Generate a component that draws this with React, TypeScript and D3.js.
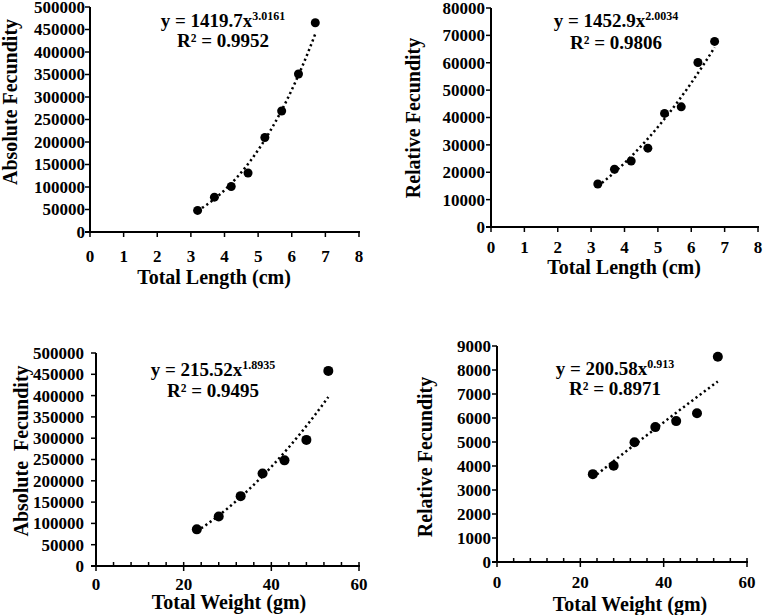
import * as d3 from "d3";
import {useEffect, useRef} from "react";

// data
const lengthCm = [3.2, 3.7, 4.2, 4.7, 5.2, 5.7, 6.2, 6.7];
const absFecByLength = [48000, 77500, 101000, 131000, 210000, 269000, 351000, 465000];
const relFecByLength = [15700, 21100, 24100, 28800, 41500, 43900, 60100, 67800];
const weightGm = [23, 28, 33, 38, 43, 48, 53];
const absFecByWeight = [86000, 116000, 164000, 217000, 248000, 296000, 458000];
const relFecByWeight = [3660, 4010, 4990, 5620, 5870, 6200, 8550];

// power trendlines y = a x^b as printed on each panel
const fitA = [1419.7, 1452.9, 215.52, 200.58];
const fitB = [3.0161, 2.0034, 1.8935, 0.913];
const fitALabel = ["1419.7", "1452.9", "215.52", "200.58"];
const fitBLabel = ["3.0161", "2.0034", "1.8935", "0.913"];
const fitR2 = ["0.9952", "0.9806", "0.9495", "0.8971"];

const lengthTicks = [0, 1, 2, 3, 4, 5, 6, 7, 8];
const weightTicks = [0, 20, 40, 60];
const weightMinorTicks = d3.range(0, 61, 4);
const absTicks = d3.range(0, 500001, 50000);
const relLenTicks = d3.range(0, 80001, 10000);
const relWtTicks = d3.range(0, 9001, 1000);

const xTitles = ["Total Length (cm)", "Total Length (cm)", "Total Weight (gm)", "Total Weight (gm)"];
const yTitles = ["Absolute Fecundity", "Relative Fecundity", "Absolute  Fecundity", "Relative Fecundity"];

const FONT = "'Liberation Serif', 'Times New Roman', serif";

export default function App() {
    const svgRef = useRef(null);

    useEffect(() => {
        if (!svgRef.current) return;
        const svg = d3.select(svgRef.current);
        svg.selectAll("*").remove();

        const panels = [
            {xs: lengthCm, ys: absFecByLength, xDom: [0, 8], yDom: [0, 500000], xTicks: lengthTicks, minor: null, yTicks: absTicks,
                x0: 90, x1: 359, y0: 232, y1: 7, r: 4.5, lblEnd: 85, xLblY: 262,
                eqX: 223, eqY: 27, r2Y: 47, xtX: 214, xtY: 284, ytX: 17, ytY: 102},
            {xs: lengthCm, ys: relFecByLength, xDom: [0, 8], yDom: [0, 80000], xTicks: lengthTicks, minor: null, yTicks: relLenTicks,
                x0: 491, x1: 758, y0: 227, y1: 8, r: 4.5, lblEnd: 485, xLblY: 253,
                eqX: 616, eqY: 27, r2Y: 49, xtX: 624, xtY: 274, ytX: 420, ytY: 118},
            {xs: weightGm, ys: absFecByWeight, xDom: [0, 60], yDom: [0, 500000], xTicks: weightTicks, minor: weightMinorTicks, yTicks: absTicks,
                x0: 96, x1: 359, y0: 566, y1: 353, r: 5, lblEnd: 84, xLblY: 590,
                eqX: 213, eqY: 376, r2Y: 397, xtX: 229, xtY: 609, ytX: 28, ytY: 451},
            {xs: weightGm, ys: relFecByWeight, xDom: [0, 60], yDom: [0, 9000], xTicks: weightTicks, minor: weightMinorTicks, yTicks: relWtTicks,
                x0: 497, x1: 747, y0: 562, y1: 346, r: 5, lblEnd: 491, xLblY: 588,
                eqX: 615, eqY: 375, r2Y: 395, xtX: 630, xtY: 611, ytX: 432, ytY: 457},
        ];

        panels.forEach((p, i) => {
            const x = d3.scaleLinear().domain(p.xDom).range([p.x0, p.x1]);
            const y = d3.scaleLinear().domain(p.yDom).range([p.y0, p.y1]);
            const g = svg.append("g");

            // axes lines
            g.append("line").attr("x1", p.x0).attr("x2", p.x0).attr("y1", p.y1).attr("y2", p.y0)
                .attr("stroke", "#000").attr("stroke-width", 2);
            g.append("line").attr("x1", p.x0 - 5).attr("x2", p.x1 + 1).attr("y1", p.y0).attr("y2", p.y0)
                .attr("stroke", "#000").attr("stroke-width", 2);

            // y ticks
            g.selectAll(".yt").data(p.yTicks).join("line")
                .attr("x1", p.x0 - 5).attr("x2", p.x0)
                .attr("y1", d => y(d)).attr("y2", d => y(d))
                .attr("stroke", "#000").attr("stroke-width", 1.5);
            g.selectAll(".yl").data(p.yTicks).join("text")
                .attr("x", p.lblEnd).attr("y", d => y(d)).attr("dy", "0.35em")
                .attr("text-anchor", "end")
                .style("font", `bold 17px ${FONT}`)
                .text(d => String(d));

            // x ticks
            if (p.minor) {
                g.selectAll(".xm").data(p.minor).join("line")
                    .attr("x1", d => x(d)).attr("x2", d => x(d))
                    .attr("y1", p.y0 - 4).attr("y2", p.y0)
                    .attr("stroke", "#000").attr("stroke-width", 1.5);
            }
            g.selectAll(".xt").data(p.xTicks).join("line")
                .attr("x1", d => x(d)).attr("x2", d => x(d))
                .attr("y1", p.y0).attr("y2", p.y0 + 5)
                .attr("stroke", "#000").attr("stroke-width", 1.5);
            g.selectAll(".xl").data(p.xTicks).join("text")
                .attr("x", d => x(d)).attr("y", p.xLblY)
                .attr("text-anchor", "middle")
                .style("font", `bold 17px ${FONT}`)
                .text(d => String(d));

            // trendline from the printed equation
            const xMin = d3.min(p.xs) as number;
            const xMax = d3.max(p.xs) as number;
            const xsFit = d3.range(0, 41).map(k => xMin + (xMax - xMin) * k / 40);
            const line = d3.line<number>().x(d => x(d)).y(d => y(fitA[i] * Math.pow(d, fitB[i])));
            g.append("path").attr("d", line(xsFit))
                .attr("fill", "none").attr("stroke", "#000")
                .attr("stroke-width", 2.5).attr("stroke-dasharray", "2.2 3");

            // points
            g.selectAll(".pt").data(p.xs).join("circle")
                .attr("cx", d => x(d)).attr("cy", (_, j) => y(p.ys[j]))
                .attr("r", p.r).attr("fill", "#000");

            // equation + R2
            const eq = g.append("text").attr("x", p.eqX).attr("y", p.eqY)
                .attr("text-anchor", "middle").style("font", `bold 19px ${FONT}`);
            eq.append("tspan").text(`y = ${fitALabel[i]}x`);
            eq.append("tspan").attr("dy", -7).style("font-size", "12px").text(fitBLabel[i]);
            g.append("text").attr("x", p.eqX).attr("y", p.r2Y)
                .attr("text-anchor", "middle").style("font", `bold 19px ${FONT}`)
                .text(`R² = ${fitR2[i]}`);

            // axis titles
            g.append("text").attr("x", p.xtX).attr("y", p.xtY)
                .attr("text-anchor", "middle").style("font", `bold 20px ${FONT}`)
                .style("white-space", "pre")
                .text(xTitles[i]);
            g.append("text")
                .attr("transform", `translate(${p.ytX},${p.ytY}) rotate(-90)`)
                .attr("text-anchor", "middle").style("font", `bold 20px ${FONT}`)
                .style("white-space", "pre")
                .text(yTitles[i]);
        });
    }, []);

    return (
        <div style={{position: "absolute", left: 0, top: 0}}>
            <svg ref={svgRef} width={763} height={615} style={{display: "block", background: "#fff"}}></svg>
        </div>
    );
}
